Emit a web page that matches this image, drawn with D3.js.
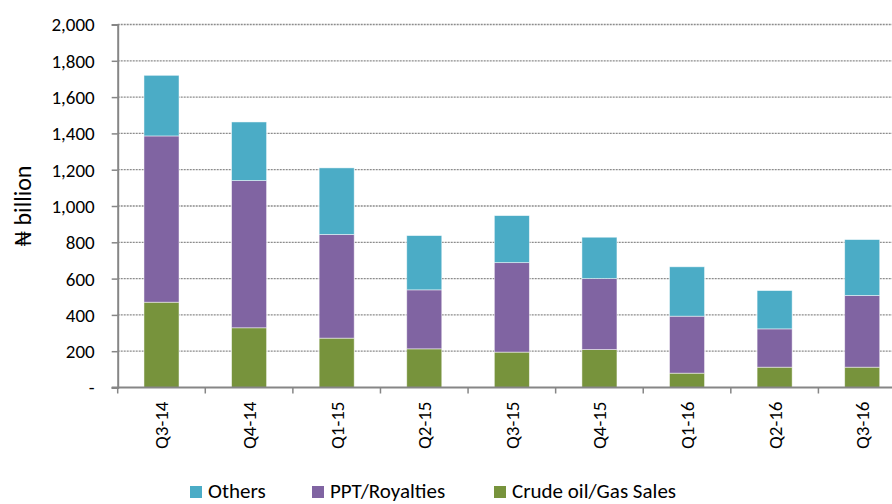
<!DOCTYPE html>
<html>
<head>
<meta charset="utf-8">
<script src="https://cdnjs.cloudflare.com/ajax/libs/d3/7.8.5/d3.min.js"></script>
<style>
  body { margin: 0; background: #fff; overflow: hidden; }
  text { font-family: Carlito, Calibri, Lato, "Open Sans", sans-serif; fill: #000; }
</style>
</head>
<body>
<div id="chart"></div>
<script>
  var quarters = ["Q3-14", "Q4-14", "Q1-15", "Q2-15", "Q3-15", "Q4-15", "Q1-16", "Q2-16", "Q3-16"],
      crudeSales = [470, 329, 272, 213, 195, 209, 79, 112, 112],
      pptRoyalties = [916, 811, 571, 325, 493, 391, 314, 211, 395],
      others = [334, 323, 367, 299, 259, 228, 272, 211, 308],
      seriesNames = ["Crude oil/Gas Sales", "PPT/Royalties", "Others"],
      legendOrder = ["Others", "PPT/Royalties", "Crude oil/Gas Sales"],
      yTicks = [0, 200, 400, 600, 800, 1000, 1200, 1400, 1600, 1800, 2000];

  var colors = { "Others": "#4BACC6", "PPT/Royalties": "#8064A2", "Crude oil/Gas Sales": "#77933C" };

  var width = 892, height = 504,
      margin = { top: 24.5, right: -14, bottom: 116.5, left: 117.7 };

  const svg = d3.select("#chart").append("svg")
      .attr("width", width)
      .attr("height", height);

  var data = quarters.map(function (q, i) {
    return { q: q, "Crude oil/Gas Sales": crudeSales[i], "PPT/Royalties": pptRoyalties[i], "Others": others[i] };
  });

  var x = d3.scaleBand()
      .domain(quarters)
      .range([margin.left, width - margin.right])
      .paddingInner(0.6)
      .paddingOuter(0.3);

  var y = d3.scaleLinear()
      .domain([0, 2000])
      .range([height - margin.bottom, margin.top]);

  // dotted gridlines
  svg.append("g").selectAll("line")
      .data(yTicks.filter(function (d) { return d > 0; }))
      .enter().append("line")
        .attr("x1", margin.left)
        .attr("x2", width)
        .attr("y1", function (d) { return y(d); })
        .attr("y2", function (d) { return y(d); })
        .attr("stroke", "#8c8c8c")
        .attr("stroke-width", 1.3)
        .attr("stroke-dasharray", "2,1");

  // stacked bars
  var stack = d3.stack().keys(seriesNames)(data);

  svg.append("g").selectAll("g")
      .data(stack)
      .enter().append("g")
        .attr("fill", function (d) { return colors[d.key]; })
      .selectAll("rect")
      .data(function (d) { return d; })
      .enter().append("rect")
        .attr("x", function (d) { return x(d.data.q); })
        .attr("y", function (d) { return y(d[1]); })
        .attr("width", x.bandwidth())
        .attr("height", function (d) { return y(d[0]) - y(d[1]); })
        .attr("stroke", "#ffffff")
        .attr("stroke-opacity", 0.6)
        .attr("stroke-width", 0.8);

  // y axis
  var yAxis = d3.axisLeft(y)
      .tickValues(yTicks)
      .tickSize(6)
      .tickPadding(17)
      .tickFormat(function (d) { return d === 0 ? "-" : d3.format(",")(d); });

  var yg = svg.append("g")
      .attr("transform", "translate(" + margin.left + ",0)")
      .call(yAxis);
  yg.select(".domain").attr("stroke", "#868686").attr("stroke-width", 2);
  yg.selectAll(".tick line").attr("stroke", "#868686").attr("stroke-width", 1.5);
  yg.selectAll(".tick text")
      .style("font-size", "19px")
      .style("font-family", "Carlito, Calibri, Lato, sans-serif")
      .attr("dy", "0.34em");

  // x axis line and boundary ticks
  var step = x.step(), gap = step - x.bandwidth();
  var bounds = quarters.map(function (q) { return x(q) - gap / 2; });

  svg.append("line")
      .attr("x1", margin.left - 6)
      .attr("x2", width)
      .attr("y1", y(0))
      .attr("y2", y(0))
      .attr("stroke", "#868686")
      .attr("stroke-width", 2);

  svg.append("g").selectAll("line")
      .data(bounds)
      .enter().append("line")
        .attr("x1", function (d) { return d; })
        .attr("x2", function (d) { return d; })
        .attr("y1", y(0))
        .attr("y2", y(0) + 6)
        .attr("stroke", "#868686")
        .attr("stroke-width", 1.5);

  svg.append("g").selectAll("text")
      .data(quarters)
      .enter().append("text")
        .text(function (d) { return d; })
        .attr("transform", function (d) {
          return "translate(" + (x(d) + x.bandwidth() / 2 + 7) + "," + (y(0) + 14) + ") rotate(-90)";
        })
        .style("text-anchor", "end")
        .style("font-size", "19px");

  // y axis title
  svg.append("text")
      .text("\u20A6 billion")
      .attr("transform", "translate(31," + 206 + ") rotate(-90)")
      .style("text-anchor", "middle")
      .style("font-size", "24px");

  // legend (kept just inside the bottom edge)
  var legendX = [190, 312, 494];
  var legend = svg.append("g").selectAll("g")
      .data(legendOrder)
      .enter().append("g")
        .attr("transform", function (d, i) { return "translate(" + legendX[i] + ",486)"; });

  legend.append("rect")
      .attr("width", 12)
      .attr("height", 12)
      .attr("fill", function (d) { return colors[d]; });

  legend.append("text")
      .text(function (d) { return d; })
      .attr("x", 18)
      .attr("y", 12)
      .style("font-size", "21px");
</script>
</body>
</html>
